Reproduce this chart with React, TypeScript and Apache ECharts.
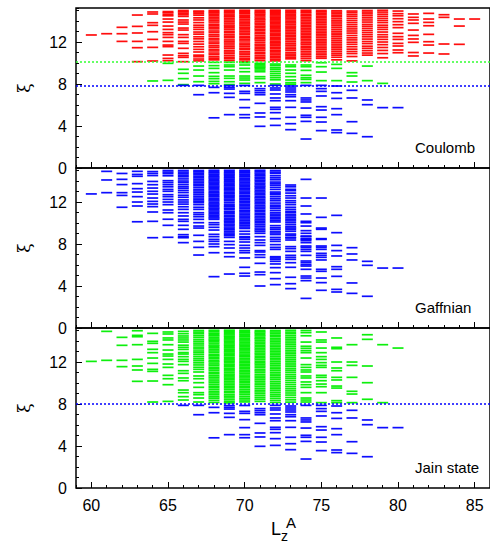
import React, { useEffect, useRef } from "react";
import * as echarts from "echarts";

// ---------- data (xi levels per L_z^A) ----------
const coulombRed: Record<number, number[]> = {
  60: [12.67],
  61: [12.79],
  62: [13.4, 12.79, 12.06],
  63: [14.57, 13.49, 12.86, 12.06, 11.46, 10.13],
  64: [14.86, 14.67, 13.84, 13.59, 12.98, 12.25, 11.49, 10.19],
  65: [14.9, 14.78, 14.62, 14.5, 14.19, 13.9, 13.52, 13.2, 12.89, 12.7, 12.44, 12.06, 11.71, 11.56, 10.76, 10.44, 10.22],
  66: [15.0, 14.88, 14.75, 14.6, 14.44, 14.1, 13.9, 13.71, 13.33, 13.14, 12.7, 12.44, 12.06, 11.87, 11.4, 10.92, 10.7, 10.54, 10.13],
  67: [14.95, 14.85, 14.7, 14.55, 14.3, 14.1, 13.85, 13.6, 13.4, 13.2, 12.95, 12.75, 12.5, 12.3, 12.05, 11.8, 11.55, 11.3, 11.05, 10.75, 10.6, 10.38, 10.2],
  68: [15.0, 14.9, 14.78, 14.65, 14.5, 14.35, 14.2, 14.05, 13.9, 13.7, 13.55, 13.4, 13.25, 13.05, 12.9, 12.7, 12.55, 12.35, 12.2, 12.0, 11.85, 11.65, 11.5, 11.3, 11.15, 10.95, 10.8, 10.6, 10.45, 10.3],
  69: [15.02, 14.9, 14.8, 14.66, 14.52, 14.4, 14.25, 14.1, 13.95, 13.8, 13.62, 13.5, 13.35, 13.2, 13.02, 12.88, 12.7, 12.55, 12.4, 12.2, 12.05, 11.9, 11.72, 11.55, 11.4, 11.2, 11.05, 10.9, 10.72, 10.55, 10.4, 10.22],
  70: [15.02, 14.92, 14.8, 14.7, 14.55, 14.42, 14.3, 14.15, 14.0, 13.85, 13.72, 13.58, 13.42, 13.3, 13.15, 13.0, 12.85, 12.7, 12.52, 12.4, 12.25, 12.1, 11.9, 11.75, 11.6, 11.42, 11.3, 11.1, 10.95, 10.8, 10.62, 10.45, 10.3, 10.12],
  71: [15.02, 14.9, 14.78, 14.65, 14.52, 14.38, 14.22, 14.1, 13.95, 13.8, 13.65, 13.5, 13.38, 13.22, 13.08, 12.92, 12.78, 12.6, 12.45, 12.3, 12.15, 11.98, 11.8, 11.65, 11.5, 11.35, 11.2, 11.02, 10.88, 10.7, 10.55, 10.4, 10.22],
  72: [15.03, 14.93, 14.82, 14.72, 14.6, 14.48, 14.36, 14.25, 14.12, 14.0, 13.88, 13.75, 13.62, 13.5, 13.38, 13.25, 13.12, 13.0, 12.85, 12.72, 12.6, 12.45, 12.32, 12.2, 12.05, 11.92, 11.8, 11.65, 11.5, 11.38, 11.22, 11.1, 10.95, 10.8, 10.65, 10.5, 10.35, 10.2],
  73: [15.02, 14.9, 14.78, 14.65, 14.5, 14.38, 14.25, 14.1, 13.95, 13.82, 13.68, 13.52, 13.4, 13.25, 13.1, 12.95, 12.8, 12.65, 12.5, 12.35, 12.2, 12.02, 11.85, 11.7, 11.52, 11.35, 11.2, 11.0, 10.85, 10.7, 10.55, 10.4],
  74: [15.02, 14.9, 14.78, 14.62, 14.5, 14.35, 14.2, 14.05, 13.9, 13.75, 13.6, 13.45, 13.3, 13.15, 13.0, 12.85, 12.7, 12.55, 12.4, 12.25, 12.1, 11.92, 11.78, 11.6, 11.45, 11.3, 11.12, 10.95, 10.78, 10.6, 10.42, 10.22],
  75: [15.0, 14.88, 14.75, 14.6, 14.45, 14.3, 14.15, 14.0, 13.85, 13.7, 13.52, 13.38, 13.22, 13.05, 12.9, 12.75, 12.58, 12.42, 12.25, 12.1, 11.95, 11.8, 11.62, 11.45, 11.3, 11.12, 10.95, 10.78, 10.6, 10.45],
  76: [14.98, 14.85, 14.7, 14.55, 14.4, 14.22, 14.05, 13.9, 13.72, 13.55, 13.38, 13.2, 13.02, 12.85, 12.68, 12.5, 12.32, 12.15, 11.98, 11.8, 11.62, 11.45, 11.28, 11.1, 10.92, 10.75, 10.55, 10.3],
  77: [14.95, 14.8, 14.62, 14.45, 14.25, 14.05, 13.85, 13.65, 13.45, 13.25, 13.05, 12.85, 12.62, 12.4, 12.2, 11.98, 11.78, 11.55, 11.32, 11.1, 10.9, 10.62, 10.2],
  78: [15.0, 14.85, 14.68, 14.5, 14.3, 14.1, 13.9, 13.68, 13.5, 13.3, 13.1, 12.9, 12.7, 12.5, 12.28, 12.05, 11.85, 11.6, 11.4, 11.18, 10.95, 10.75],
  79: [15.02, 14.85, 14.65, 14.45, 14.25, 14.05, 13.85, 13.6, 13.4, 13.2, 12.95, 12.7, 12.48, 12.25, 12.0, 11.75, 11.48, 11.2, 10.9, 10.5],
  80: [14.95, 14.7, 14.5, 14.22, 13.94, 13.65, 13.37, 12.83, 12.51, 12.25, 11.87, 11.62, 11.24, 10.98],
  81: [14.67, 14.35, 14.1, 13.78, 13.14, 12.63, 12.29, 11.97, 11.0, 10.67],
  82: [14.73, 14.19, 13.87, 13.55, 12.73, 12.03, 11.71, 10.95],
  83: [14.6, 14.35, 11.81, 10.86],
  84: [14.19, 13.52, 11.78],
  85: [14.19],
};

const coulombGreen: Record<number, number[]> = {
  64: [8.29],
  65: [9.97, 8.35],
  66: [9.4, 9.02, 8.51, 7.94],
  67: [9.71, 9.33, 8.76, 8.22],
  68: [10.06, 9.75, 9.49, 9.08, 8.73, 8.51, 8.25, 8.03],
  69: [10.06, 9.81, 9.65, 9.33, 8.76, 8.54, 8.22, 7.95],
  70: [10.03, 9.81, 9.49, 9.17, 8.76, 8.57, 8.38, 8.06],
  71: [9.97, 9.85, 9.72, 9.6, 9.48, 9.33, 9.17, 8.7, 8.51, 8.13],
  72: [9.9, 9.75, 9.55, 9.4, 9.2, 9.0, 8.8, 8.6, 8.4, 8.0],
  73: [9.81, 9.65, 9.33, 9.02, 8.7, 8.38, 8.13, 7.98],
  74: [9.81, 9.65, 9.3, 8.83, 8.6, 8.44, 8.13],
  75: [10.03, 9.65, 9.14, 8.32],
  76: [9.87, 9.49, 8.32],
  77: [9.08, 8.76, 8.19],
  78: [9.71, 8.32],
  79: [8.06],
};

// low-lying levels (blue), shared by the Coulomb and Jain panels
const lowLevels: Record<number, number[]> = {
  66: [7.87],
  67: [7.87, 6.98],
  68: [7.68, 7.17, 4.78],
  69: [7.85, 7.68, 7.52, 7.11, 6.73, 5.08],
  70: [7.86, 7.3, 7.11, 6.51, 5.75, 5.08, 4.79],
  71: [7.56, 7.37, 7.17, 6.98, 6.16, 5.24, 4.86, 3.97],
  72: [7.87, 7.62, 7.43, 7.05, 6.67, 6.41, 5.78, 5.59, 5.27, 4.7, 4.06],
  73: [7.81, 7.62, 7.43, 7.24, 6.98, 6.79, 6.41, 5.78, 4.83, 4.22, 3.65],
  74: [7.87, 6.67, 6.48, 6.29, 5.71, 5.02, 4.83, 4.44, 2.76],
  75: [7.87, 7.56, 7.3, 6.86, 5.84, 5.52, 4.83, 4.38, 3.56],
  76: [7.81, 7.17, 6.63, 5.65, 5.08, 3.62, 3.37],
  77: [7.4, 6.67, 4.41, 3.3],
  78: [6.48, 6.03, 2.98],
  79: [5.75],
  80: [5.75],
};

const gaffnianLevels: Record<number, number[]> = {
  60: [12.77],
  61: [14.92, 14.1, 12.89],
  62: [14.72, 14.16, 13.66, 12.89, 12.63, 11.5],
  63: [14.92, 14.63, 14.45, 13.75, 13.27, 12.95, 12.51, 12.0, 11.62, 10.12],
  64: [14.9, 14.72, 14.52, 13.96, 13.65, 13.33, 13.02, 12.76, 12.38, 12.06, 11.81, 11.56, 11.05, 10.16, 8.6],
  65: [15.0, 14.85, 14.7, 14.5, 14.03, 13.85, 13.65, 13.45, 13.2, 13.02, 12.7, 12.51, 12.25, 12.0, 11.75, 11.24, 10.98, 10.36, 9.78, 8.64],
  66: [15.0, 14.85, 14.7, 14.55, 14.4, 14.2, 14.0, 13.85, 13.65, 13.45, 13.3, 13.1, 12.9, 12.64, 12.45, 12.2, 12.0, 11.8, 11.55, 11.3, 10.98, 10.67, 10.35, 10.16, 9.78, 9.4, 8.89, 8.7, 8.6, 8.13],
  67: [15.0, 14.88, 14.75, 14.6, 14.45, 14.3, 14.15, 14.0, 13.85, 13.7, 13.55, 13.38, 13.2, 13.05, 12.88, 12.72, 12.55, 12.38, 12.22, 12.08, 11.94, 11.75, 11.5, 11.3, 10.98, 10.8, 10.6, 10.35, 10.03, 9.71, 9.52, 8.83, 8.25, 7.68, 6.95],
  68: [15.02, 14.9, 14.78, 14.65, 14.52, 14.4, 14.28, 14.15, 14.02, 13.9, 13.78, 13.65, 13.52, 13.4, 13.28, 13.15, 13.0, 12.88, 12.75, 12.62, 12.5, 12.35, 12.22, 12.1, 11.95, 11.82, 11.7, 11.55, 11.42, 11.3, 11.15, 11.02, 10.88, 10.75, 10.6, 10.48, 10.35, 10.03, 9.84, 9.59, 9.33, 8.92, 8.7, 8.44, 8.25, 8.0, 7.75, 7.17, 4.89],
  69: [15.02, 14.9, 14.78, 14.66, 14.55, 14.42, 14.3, 14.18, 14.05, 13.92, 13.8, 13.66, 13.55, 13.42, 13.28, 13.18, 13.05, 12.9, 12.8, 12.66, 12.55, 12.42, 12.28, 12.15, 11.98, 11.8, 11.66, 11.55, 11.4, 11.3, 11.12, 11.0, 10.88, 10.72, 10.6, 10.45, 10.3, 10.18, 10.05, 9.9, 9.78, 9.62, 9.48, 9.35, 9.2, 9.05, 8.92, 8.8, 8.63, 8.25, 7.94, 7.62, 7.17, 6.79, 5.14],
  70: [15.02, 14.9, 14.78, 14.65, 14.52, 14.4, 14.26, 14.12, 14.0, 13.86, 13.72, 13.6, 13.45, 13.32, 13.2, 13.05, 12.92, 12.78, 12.62, 12.5, 12.36, 12.22, 12.08, 11.95, 11.8, 11.66, 11.52, 11.38, 11.22, 11.1, 10.95, 10.8, 10.66, 10.52, 10.38, 10.22, 10.08, 9.92, 9.78, 9.62, 9.48, 9.21, 8.95, 8.7, 8.6, 8.44, 8.19, 7.87, 7.62, 7.37, 7.17, 6.67, 5.78, 5.21, 4.95],
  71: [15.02, 14.9, 14.76, 14.62, 14.5, 14.36, 14.22, 14.08, 13.95, 13.8, 13.66, 13.52, 13.4, 13.25, 13.1, 12.96, 12.82, 12.68, 12.52, 12.4, 12.25, 12.1, 11.96, 11.82, 11.66, 11.52, 11.38, 11.22, 11.08, 10.92, 10.78, 10.62, 10.48, 10.32, 10.18, 10.02, 9.86, 9.7, 9.52, 9.35, 9.2, 9.02, 8.7, 8.38, 8.13, 7.87, 7.37, 7.24, 6.98, 6.73, 6.16, 5.33, 5.08, 4.0],
  72: [15.0, 14.85, 14.72, 14.5, 14.3, 14.12, 13.9, 13.75, 13.6, 13.4, 13.2, 12.95, 12.82, 12.7, 12.5, 12.3, 12.12, 11.9, 11.7, 11.55, 11.4, 11.2, 11.0, 10.85, 10.7, 10.55, 10.4, 10.25, 10.1, 9.75, 9.55, 9.4, 9.2, 9.05, 8.9, 8.63, 8.44, 8.25, 7.94, 7.68, 7.49, 6.79, 6.67, 6.54, 6.35, 6.1, 5.75, 5.27, 4.7, 4.13],
  73: [13.62, 13.45, 13.21, 13.08, 12.85, 12.6, 12.38, 12.13, 11.95, 11.75, 11.5, 11.3, 11.11, 10.98, 10.8, 10.67, 10.5, 10.35, 10.2, 10.03, 9.84, 9.65, 9.52, 9.38, 9.21, 8.95, 8.83, 8.64, 8.57, 8.38, 7.75, 7.56, 7.3, 6.92, 6.73, 6.54, 6.22, 5.78, 4.83, 4.22, 3.75],
  74: [14.16, 12.38, 11.62, 10.86, 10.16, 10.03, 9.71, 9.27, 9.02, 8.76, 8.7, 8.51, 8.44, 8.32, 8.13, 7.81, 7.68, 7.49, 7.3, 6.92, 6.38, 6.22, 6.03, 5.9, 5.59, 4.95, 4.76, 4.51, 2.82],
  75: [12.38, 10.54, 9.52, 9.4, 8.51, 8.44, 7.81, 7.68, 7.49, 7.11, 6.92, 6.73, 6.48, 5.59, 5.4, 4.76, 4.32, 3.59],
  76: [10.73, 9.08, 7.87, 7.37, 6.86, 5.84, 5.59, 4.92, 3.68, 3.43],
  77: [7.65, 7.05, 6.48, 4.29, 3.3],
  78: [6.35, 5.97, 3.02],
  79: [5.71],
  80: [5.71],
};

const jainGreen: Record<number, number[]> = {
  60: [12.06],
  61: [14.92, 12.16],
  62: [14.35, 13.59, 12.16, 11.56],
  63: [14.98, 14.54, 14.41, 13.65, 12.25, 11.62, 11.24, 10.16],
  64: [14.73, 13.97, 13.78, 13.21, 12.89, 12.38, 11.87, 11.3, 11.11, 10.19, 8.19],
  65: [14.86, 14.67, 14.29, 14.1, 13.65, 13.14, 12.76, 12.57, 12.25, 11.81, 11.49, 10.73, 10.41, 9.84, 8.25],
  66: [14.92, 14.7, 14.48, 14.29, 14.1, 13.9, 13.6, 13.4, 13.2, 12.9, 12.76, 12.51, 12.25, 12.06, 11.75, 11.17, 10.92, 10.48, 10.22, 9.33, 9.08, 8.7, 8.38],
  67: [15.0, 14.85, 14.7, 14.52, 14.35, 14.15, 13.98, 13.8, 13.62, 13.42, 13.25, 13.05, 12.88, 12.7, 12.5, 12.3, 12.12, 11.92, 11.72, 11.5, 11.3, 11.05, 10.67, 10.41, 10.03, 9.59, 9.08, 8.89, 8.57, 8.19],
  68: [15.02, 14.9, 14.75, 14.62, 14.5, 14.35, 14.2, 14.08, 13.95, 13.8, 13.62, 13.5, 13.35, 13.2, 13.05, 12.9, 12.72, 12.6, 12.45, 12.3, 12.12, 12.0, 11.82, 11.68, 11.5, 11.35, 11.2, 11.02, 10.88, 10.7, 10.55, 10.38, 10.2, 10.05, 9.88, 9.7, 9.55, 9.38, 9.2, 9.05, 8.88, 8.7, 8.55, 8.35, 8.15],
  69: [15.03, 14.92, 14.82, 14.7, 14.58, 14.45, 14.35, 14.22, 14.1, 13.98, 13.85, 13.72, 13.6, 13.48, 13.35, 13.22, 13.1, 12.98, 12.85, 12.72, 12.6, 12.45, 12.32, 12.2, 12.08, 11.95, 11.8, 11.68, 11.55, 11.4, 11.28, 11.15, 11.0, 10.85, 10.72, 10.58, 10.45, 10.3, 10.15, 10.0, 9.85, 9.7, 9.55, 9.4, 9.22, 9.08, 8.9, 8.75, 8.58, 8.4, 8.22, 8.1],
  70: [15.02, 14.9, 14.78, 14.65, 14.52, 14.4, 14.26, 14.12, 14.0, 13.86, 13.72, 13.6, 13.45, 13.32, 13.18, 13.05, 12.9, 12.76, 12.62, 12.5, 12.35, 12.2, 12.06, 11.92, 11.78, 11.64, 11.5, 11.35, 11.2, 11.06, 10.92, 10.76, 10.62, 10.48, 10.32, 10.18, 10.02, 9.86, 9.7, 9.55, 9.38, 9.22, 9.06, 8.9, 8.72, 8.55, 8.38, 8.2],
  71: [15.0, 14.88, 14.75, 14.6, 14.48, 14.32, 14.2, 14.05, 13.9, 13.75, 13.6, 13.45, 13.3, 13.15, 13.0, 12.85, 12.7, 12.55, 12.4, 12.25, 12.08, 11.92, 11.78, 11.62, 11.48, 11.3, 11.15, 11.0, 10.82, 10.66, 10.5, 10.35, 10.18, 10.0, 9.85, 9.68, 9.5, 9.32, 9.15, 8.98, 8.8, 8.62, 8.45, 8.25],
  72: [15.0, 14.86, 14.72, 14.56, 14.42, 14.25, 14.1, 13.95, 13.8, 13.62, 13.48, 13.32, 13.15, 13.0, 12.85, 12.68, 12.52, 12.36, 12.2, 12.02, 11.86, 11.7, 11.52, 11.36, 11.2, 11.02, 10.85, 10.68, 10.5, 10.34, 10.15, 9.98, 9.8, 9.62, 9.45, 9.28, 9.1, 8.92, 8.75, 8.55, 8.35, 8.15],
  73: [15.02, 14.85, 14.7, 14.52, 14.35, 14.18, 14.0, 13.82, 13.65, 13.48, 13.3, 13.12, 12.95, 12.78, 12.6, 12.42, 12.25, 12.08, 11.9, 11.72, 11.55, 11.35, 11.18, 11.0, 10.8, 10.62, 10.45, 10.25, 10.05, 9.85, 9.65, 9.45, 9.25, 9.05, 8.85, 8.62, 8.4, 8.18],
  74: [15.0, 14.8, 14.5, 13.9, 13.5, 13.3, 13.08, 12.89, 12.38, 11.75, 11.49, 11.24, 11.05, 10.67, 10.48, 10.1, 9.84, 9.59, 9.08, 8.57, 8.38, 8.19],
  75: [14.86, 14.1, 13.9, 13.33, 12.89, 12.51, 12.25, 11.94, 11.68, 11.49, 10.73, 10.54, 10.22, 9.9, 9.65, 9.08, 8.13],
  76: [14.29, 13.4, 13.27, 12.0, 11.43, 11.17, 10.54, 10.29, 9.71, 9.52, 8.32, 8.13],
  77: [13.65, 12.0, 11.68, 10.54, 9.21, 8.95, 8.13],
  78: [14.6, 14.16, 11.62, 10.03, 8.45],
  79: [13.65, 8.13],
  80: [13.33],
};

const xTickLabels = [60, 65, 70, 75, 80, 85];
const panelNames = ["Coulomb", "Gaffnian", "Jain state"];
const coulombGreenCut = 10.12;
const coulombBlueCut = 7.87;
const jainBlueCut = 8.0;

// ---------- layout / style ----------
const RED = "#ff0000";
const GREEN = "#00ee00";
const BLUE = "#0000ff";
const FONT = "Liberation Sans";
const GRID_LEFT = 76;
const GRID_W = 416;
const GRID_H = 160;
const GRID_TOP = 8;
const X_MIN = 59;
const X_MAX = 86;
const Y_MAX = 15.24;

function toPoints(levels: Record<number, number[]>): number[][] {
  const pts: number[][] = [];
  Object.keys(levels).forEach((k) => {
    levels[Number(k)].forEach((v) => pts.push([Number(k), v]));
  });
  return pts;
}

function dashSeries(panel: number, levels: Record<number, number[]>, color: string, extra: any = {}) {
  return {
    type: "scatter",
    xAxisIndex: panel * 2,
    yAxisIndex: panel * 2,
    data: toPoints(levels),
    symbol: "rect",
    symbolSize: [11, 1.7],
    itemStyle: { color, opacity: 0.95 },
    silent: true,
    ...extra,
  };
}

function cutLine(value: number, color: string) {
  return {
    yAxis: value,
    lineStyle: { color, type: [2, 2], width: 1.5 },
  };
}

export default function App() {
  const ref = useRef<HTMLDivElement>(null);
  useEffect(() => {
    if (!ref.current) return;
    const chart = echarts.init(ref.current, null, { renderer: "svg" });

    const grids: any[] = [];
    const xAxes: any[] = [];
    const yAxes: any[] = [];
    for (let i = 0; i < 3; i++) {
      grids.push({
        left: GRID_LEFT,
        top: GRID_TOP + GRID_H * i,
        width: GRID_W,
        height: GRID_H,
        show: true,
        borderColor: "#000",
        borderWidth: 1.5,
        backgroundColor: "transparent",
      });
      // unit ticks
      xAxes.push({
        gridIndex: i,
        type: "value",
        position: "bottom",
        min: X_MIN,
        max: X_MAX,
        interval: 1,
        axisLine: { show: false },
        axisTick: { inside: true, length: 3, lineStyle: { color: "#000", width: 1 } },
        axisLabel: { show: false },
        splitLine: { show: false },
      });
      // major ticks + labels
      xAxes.push({
        gridIndex: i,
        type: "value",
        position: "bottom",
        min: X_MIN,
        max: X_MAX,
        axisLine: { show: false },
        axisTick: { inside: true, length: 6, customValues: xTickLabels, lineStyle: { color: "#000", width: 1 } },
        axisLabel: {
          show: i === 2,
          customValues: xTickLabels,
          fontSize: 16,
          color: "#000",
          fontFamily: FONT,
          margin: 9,
        },
        splitLine: { show: false },
      });
      yAxes.push({
        gridIndex: i,
        type: "value",
        position: "left",
        min: 0,
        max: Y_MAX,
        interval: 1,
        axisLine: { show: false, onZero: false },
        axisTick: { inside: true, length: 3, lineStyle: { color: "#000", width: 1 } },
        axisLabel: { show: false },
        splitLine: { show: false },
      });
      yAxes.push({
        gridIndex: i,
        type: "value",
        position: "left",
        min: 0,
        max: Y_MAX,
        interval: 4,
        name: "ξ",
        nameLocation: "middle",
        nameRotate: 90,
        nameGap: 44,
        nameTextStyle: { fontFamily: "DejaVu Serif", fontSize: 17, color: "#000" },
        axisLine: { show: false, onZero: false },
        axisTick: { inside: true, length: 6, lineStyle: { color: "#000", width: 1 } },
        axisLabel: {
          fontSize: 16,
          color: "#000",
          fontFamily: FONT,
          margin: 9,
          showMaxLabel: false,
        },
        splitLine: { show: false },
      });
    }

    const series: any[] = [
      dashSeries(0, coulombRed, RED),
      dashSeries(0, coulombGreen, GREEN),
      dashSeries(0, lowLevels, BLUE, {
        markLine: {
          silent: true,
          symbol: "none",
          label: { show: false },
          z: 10,
          data: [cutLine(coulombGreenCut, "#33ff33"), cutLine(coulombBlueCut, BLUE)],
        },
      }),
      dashSeries(1, gaffnianLevels, BLUE),
      dashSeries(2, jainGreen, GREEN),
      dashSeries(2, lowLevels, BLUE, {
        markLine: {
          silent: true,
          symbol: "none",
          label: { show: false },
          z: 10,
          data: [cutLine(jainBlueCut, BLUE)],
        },
      }),
    ];

    const graphics: any[] = [];
    panelNames.forEach((name, i) => {
      graphics.push({
        type: "text",
        x: 415,
        y: 147 + GRID_H * i,
        style: {
          text: name,
          font: `15px "${FONT}"`,
          fill: "#000",
          textAlign: "left",
          textVerticalAlign: "middle",
          align: "left",
          verticalAlign: "middle",
        },
      });
    });
    graphics.push(
      {
        type: "text",
        x: 271,
        y: 529,
        style: { text: "L", font: `18px "${FONT}"`, fill: "#000", textAlign: "left", textVerticalAlign: "middle", align: "left", verticalAlign: "middle" },
      },
      {
        type: "text",
        x: 281,
        y: 536,
        style: { text: "z", font: `14px "${FONT}"`, fill: "#000", textAlign: "left", textVerticalAlign: "middle", align: "left", verticalAlign: "middle" },
      },
      {
        type: "text",
        x: 286,
        y: 522,
        style: { text: "A", font: `15px "${FONT}"`, fill: "#000", textAlign: "left", textVerticalAlign: "middle", align: "left", verticalAlign: "middle" },
      }
    );

    chart.setOption({
      animation: false,
      backgroundColor: "#fff",
      grid: grids,
      xAxis: xAxes,
      yAxis: yAxes,
      series,
      graphic: graphics,
    });
    return () => chart.dispose();
  }, []);
  return (
    <div
      ref={ref}
      style={{ position: "absolute", left: 0, top: 0, width: 490, height: 544 }}
    />
  );
}
